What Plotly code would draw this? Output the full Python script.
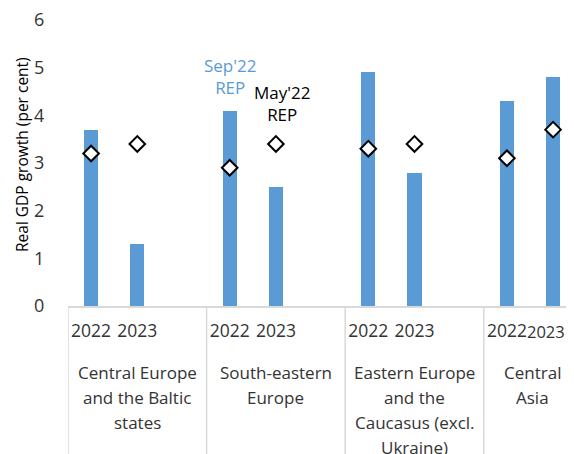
import plotly.graph_objects as go

regions = [
    ["Central Europe", "and the Baltic", "states"],
    ["South-eastern", "Europe"],
    ["Eastern Europe", "and the", "Caucasus (excl.", "Ukraine)"],
    ["Central", "Asia"],
]
years = ["2022", "2023"]
sep22 = [3.7, 1.3, 4.1, 2.5, 4.9, 2.8, 4.3, 4.8]   # bars: Sep'22 REP
may22 = [3.2, 3.4, 2.9, 3.4, 3.3, 3.4, 3.1, 3.7]   # diamonds: May'22 REP

SLOTS_PER_GROUP = 3
xpos = []
xlabels = []
for g in range(len(regions)):
    for k, yname in enumerate(years):
        xpos.append(g * SLOTS_PER_GROUP + k)
        xlabels.append(yname)

BLUE = "#5B9BD5"
TXT = "#333333"
GRID = "#D9D9D9"
FONT = "Open Sans"

fig = go.Figure()
fig.add_trace(go.Bar(x=xpos, y=sep22, width=0.31, marker=dict(color=BLUE, line=dict(width=0)),
                     name="Sep'22 REP", showlegend=False))
fig.add_trace(go.Scatter(x=xpos, y=may22, mode="markers", name="May'22 REP", showlegend=False,
                         cliponaxis=False,
                         marker=dict(symbol="diamond", size=12, color="white",
                                     line=dict(color="black", width=2))))

# the page body has an 8px margin, so the figure is drawn 8px in from the window corner
OFF = 8
PAGE_W, PAGE_H = 574, 454
W, H = PAGE_W - OFF, PAGE_H - OFF
L, R, T, B = 68 - OFF, 0, 20 - OFF, PAGE_H - 306
plot_w = W - L - R
plot_h = H - T - B
slot_px = 46.2
x0 = -0.5
x1 = x0 + plot_w / slot_px

def py(page_y):
    # page pixel y (from top) -> paper y
    return (H - B - (page_y - OFF)) / plot_h

def px(page_x):
    return (page_x - OFF - L) / plot_w

shapes = []
for g in range(len(regions)):
    xb = g * SLOTS_PER_GROUP - 0.5
    shapes.append(dict(type="line", xref="x", yref="paper", x0=xb, x1=xb,
                       y0=0, y1=py(PAGE_H + 2), line=dict(color=GRID, width=1.5)))

# label centres: group centre, except the last group, whose label is squeezed into the visible area
label_x = [g * SLOTS_PER_GROUP + 1 for g in range(len(regions))]
label_x[-1] = x0 + (532 - 68) / slot_px

annotations = []
for g, lines in enumerate(regions):
    for i, ln in enumerate(lines):
        annotations.append(dict(x=label_x[g], xref="x", y=py(372 + 25 * i), yref="paper",
                                text=ln, showarrow=False, xanchor="center", yanchor="middle",
                                font=dict(family=FONT, size=17, color=TXT)))

# the last year label sits against the right edge, so it is kept inside the picture
tick_text = list(xlabels)
tick_text[-1] = ""
annotations.append(dict(x=1, xref="paper", y=py(331), yref="paper", text=xlabels[-1],
                        showarrow=False, xanchor="right", yanchor="middle", xshift=-7,
                        font=dict(family=FONT, size=16.5, color=TXT)))

annotations.append(dict(x=3.0, xref="x", y=py(76), yref="paper", text="Sep'22<br>REP",
                        showarrow=False, xanchor="center", yanchor="middle", align="center",
                        font=dict(family=FONT, size=17, color=BLUE)))
annotations.append(dict(x=4.13, xref="x", y=py(103.5), yref="paper", text="May'22<br>REP",
                        showarrow=False, xanchor="center", yanchor="middle", align="center",
                        font=dict(family=FONT, size=17, color="black")))
annotations.append(dict(x=px(22), xref="paper", y=py(155), yref="paper",
                        text="Real GDP growth (per cent)", textangle=-90, showarrow=False,
                        xanchor="center", yanchor="middle",
                        font=dict(family=FONT, size=15.5, color="black")))

fig.update_layout(
    width=W, height=H,
    margin=dict(l=L, r=R, t=T, b=B, pad=0, autoexpand=False),
    paper_bgcolor="white", plot_bgcolor="white",
    font=dict(family=FONT, color=TXT),
    shapes=shapes, annotations=annotations,
    xaxis=dict(range=[x0, x1], tickmode="array", tickvals=xpos, ticktext=tick_text,
               automargin=False, ticklabeloverflow="allow",
               showgrid=False, zeroline=False, showline=True, linecolor=GRID, linewidth=1.5,
               ticks="outside", ticklen=8, tickcolor="rgba(0,0,0,0)",
               tickfont=dict(family=FONT, size=17.5, color=TXT)),
    yaxis=dict(range=[0, 6], tickvals=[0, 1, 2, 3, 4, 5, 6], showgrid=False, zeroline=False,
               automargin=False, ticklabeloverflow="allow",
               showline=False, ticks="outside", ticklen=19, tickcolor="rgba(0,0,0,0)",
               tickfont=dict(family=FONT, size=18, color=TXT)),
    bargap=0,
)

fig.write_html("out.html")
